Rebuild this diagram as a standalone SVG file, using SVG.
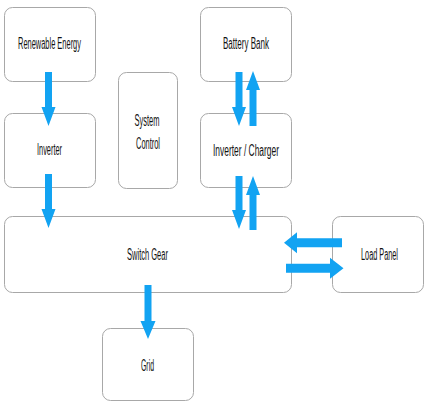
<svg xmlns="http://www.w3.org/2000/svg" width="426" height="402" viewBox="0 0 426 402">
<style>
.box{fill:#fff;stroke:#a8a8a8;stroke-width:1}
.lbl{font-family:"Liberation Sans",Arial,sans-serif;font-size:16px;fill:#111;text-anchor:middle}
.arr{fill:#12a3f2}
</style>
<rect width="426" height="402" fill="#fff"/>
<g id="renewable-energy"><rect class="box" x="4.5" y="7.5" width="91" height="74" rx="8"/><text class="lbl" x="49.5" y="49" textLength="63" lengthAdjust="spacingAndGlyphs">Renewable Energy</text></g>
<g id="inverter"><rect class="box" x="4.5" y="113.5" width="91" height="74" rx="8"/><text class="lbl" x="49.5" y="155" textLength="25" lengthAdjust="spacingAndGlyphs">Inverter</text></g>
<g id="system-control"><rect class="box" x="118.5" y="72.5" width="59" height="116" rx="8"/><text class="lbl" x="147" y="126" textLength="25" lengthAdjust="spacingAndGlyphs">System</text><text class="lbl" x="148" y="149" textLength="24" lengthAdjust="spacingAndGlyphs">Control</text></g>
<g id="battery-bank"><rect class="box" x="200.5" y="7.5" width="91" height="74" rx="8"/><text class="lbl" x="246" y="49" textLength="46" lengthAdjust="spacingAndGlyphs">Battery Bank</text></g>
<g id="inverter-charger"><rect class="box" x="200.5" y="113.5" width="91" height="74" rx="8"/><text class="lbl" x="246" y="156" textLength="66" lengthAdjust="spacingAndGlyphs">Inverter / Charger</text></g>
<g id="switch-gear"><rect class="box" x="4.5" y="216.5" width="287" height="76" rx="8"/><text class="lbl" x="147.5" y="260" textLength="41" lengthAdjust="spacingAndGlyphs">Switch Gear</text></g>
<g id="load-panel"><rect class="box" x="332.5" y="216.5" width="91" height="76" rx="8"/><text class="lbl" x="379.5" y="260" textLength="37" lengthAdjust="spacingAndGlyphs">Load Panel</text></g>
<g id="grid"><rect class="box" x="102.5" y="328.5" width="91" height="72" rx="8"/><text class="lbl" x="147.5" y="371" textLength="13" lengthAdjust="spacingAndGlyphs">Grid</text></g>
<g id="connectors">
<polygon class="arr" points="45,72 52,72 52,107 55.5,107 48.5,126 41.5,107 45,107"/>
<polygon class="arr" points="45,174 52,174 52,209 55.5,209 48.5,228 41.5,209 45,209"/>
<polygon class="arr" points="235.5,72 242.5,72 242.5,107 246,107 239,126 232,107 235.5,107"/>
<polygon class="arr" points="249.5,126 256.5,126 256.5,90 260,90 253,71 246,90 249.5,90"/>
<polygon class="arr" points="235.5,176 242.5,176 242.5,210 246,210 239,229 232,210 235.5,210"/>
<polygon class="arr" points="249.5,230 256.5,230 256.5,195 260,195 253,176 246,195 249.5,195"/>
<polygon class="arr" points="144.5,285 151.5,285 151.5,321 155.5,321 148,339 140.5,321 144.5,321"/>
<polygon class="arr" points="342,238.3 297,238.3 297,232.3 284,242.8 297,253.3 297,247.3 342,247.3"/>
<polygon class="arr" points="286,263.8 330,263.8 330,257.8 343.5,268.3 330,278.8 330,272.8 286,272.8"/>
</g>
</svg>
